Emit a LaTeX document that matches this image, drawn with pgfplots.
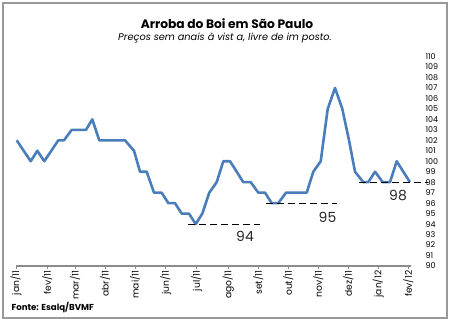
\documentclass[border=0pt]{standalone}
\usepackage{fontspec}
\setmainfont{Poppins}
\usepackage{pgfplots}
\pgfplotsset{compat=1.18}
\definecolor{lineblue}{RGB}{74,126,187}
\begin{document}
\begin{tikzpicture}[x=1bp,y=1bp]
\useasboundingbox (0,0) rectangle (450,-321);
\draw[line width=1.2bp, color=black!40] (3,-3) rectangle (447,-318);
\node[font=\bfseries\fontsize{12.3}{14}\selectfont] at (227,-24) {Arroba do Boi em São Paulo};
\node[font=\itshape\fontsize{9.8}{11}\selectfont] at (225,-38) {Preços sem anais à vist a, livre de im posto.};
\node[font=\bfseries\fontsize{8.7}{10}\selectfont, anchor=west] at (8,-308) {Fonte: Esalq/BVMF};
\begin{axis}[
  scale only axis, width=395bp, height=209.4bp,
  at={(16,-254)}, anchor=south west,
  xmin=16, xmax=411, ymin=90, ymax=110,
  clip=false,
  axis x line*=bottom, axis y line*=right,
  y axis line style={draw=none},
  x axis line style={draw=black!45, line width=2bp, -},
  /pgf/number format/assume math mode=true,
  ytick={90,...,110}, ytick style={draw=none},
  yticklabel style={font=\fontsize{8}{8}\selectfont, anchor=west, xshift=8bp},
  xtick={16,47.3,75,105,135,165.7,196.7,228.3,258.3,288.3,318.3,348.3,378.3,408.3},
  xticklabels={jan/11,fev/11,mar/11,abr/11,mai/11,jun/11,jul/11,ago/11,set/11,out/11,nov/11,dez/11,jan/12,fev/12},
  xticklabel style={rotate=90, anchor=east, font=\fontsize{9.2}{10}\selectfont, xshift=2bp},
  xtick style={draw=black!45, line width=0.8bp},
  tick align=outside, major tick length=3bp,
]
\addplot[lineblue, line width=2.6bp, line join=round] coordinates {
(16.7,102) (30.7,100) (37.3,101) (44.3,100) (58.3,102) (64,102) (71.7,103) (86,103)
(92.3,104) (99.3,102) (125,102) (134,101) (140,99) (146.7,99) (154,97) (161.7,97)
(168.3,96) (175,96) (181.7,95) (189,95) (195.7,94) (202.3,95) (209.3,97) (216.7,98)
(223.3,100) (230,100) (236.7,99) (243.3,98) (250.7,98) (258.3,97) (265,97) (271.7,96)
(278.3,96) (286,97) (306.7,97) (313.3,99) (320.7,100) (327.7,105) (335,107) (342.3,105)
(349,102) (355,99) (363.3,98) (368.3,98) (375,99) (382.7,98) (390,98) (396.7,100)
(403.3,99) (410,98)
};
\addplot[black, dash pattern=on 7bp off 4bp, line width=0.9bp] coordinates {(188,94) (260,94)};
\addplot[black, dash pattern=on 7bp off 4bp, line width=0.9bp] coordinates {(266,96) (337,96)};
\addplot[black, dash pattern=on 7bp off 4bp, line width=0.9bp] coordinates {(359,98) (428,98)};
\node[font=\fontsize{14}{14}\selectfont, text=black!85] at (axis cs:245,92.82) {94};
\node[font=\fontsize{14}{14}\selectfont, text=black!85] at (axis cs:327.5,94.63) {95};
\node[font=\fontsize{14}{14}\selectfont, text=black!85] at (axis cs:398,96.69) {98};
\end{axis}
\end{tikzpicture}
\end{document}
